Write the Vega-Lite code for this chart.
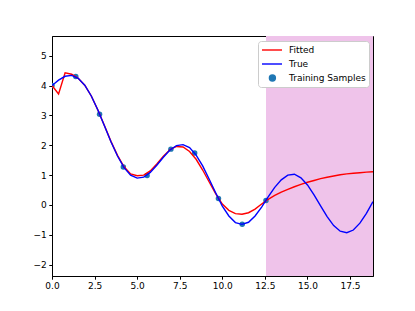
{
  "$schema": "https://vega.github.io/schema/vega-lite/v6.json",
  "autosize": "none",
  "width": 321,
  "height": 240,
  "padding": {"left": 52, "top": 36, "right": 42, "bottom": 35},
  "background": "white",
  "config": {
    "view": {"stroke": "black", "strokeWidth": 1},
    "axis": {"domainColor": "black", "tickColor": "black", "labelColor": "black", "labelFont": "DejaVu Sans", "labelFontSize": 9, "tickSize": 3.2, "grid": false, "title": null, "labelPadding": 2.5, "labelOverlap": false, "labelFlush": false},
    "legend": {
      "orient": "none", "legendX": 206, "legendY": 5, "title": null,
      "fillColor": "white", "strokeColor": "#cccccc", "cornerRadius": 3, "padding": 3,
      "labelFont": "DejaVu Sans", "labelFontSize": 9, "labelColor": "black", "labelOffset": 16,
      "symbolSize": 100, "symbolStrokeWidth": 1.4, "symbolOpacity": 1, "rowPadding": 3
    }
  },
  "datasets": {
    "span": [{"x1": 12.566, "x2": 18.85}],
    "legendEntries": [{"label": "Fitted"}, {"label": "True"}, {"label": "Training Samples"}],
    "samples": [
      {"x": 0, "y": 4.0}, {"x": 1.396, "y": 4.3}, {"x": 2.793, "y": 3.04}, {"x": 4.189, "y": 1.27}, {"x": 5.585, "y": 0.99},
      {"x": 6.981, "y": 1.87}, {"x": 8.378, "y": 1.74}, {"x": 9.774, "y": 0.22}, {"x": 11.17, "y": -0.65}, {"x": 12.566, "y": 0.15}
    ],
    "curves": [
      {"x": 0, "t": 4.00, "f": 4.00},
      {"x": 0.385, "t": 4.18, "f": 3.72},
      {"x": 0.769, "t": 4.31, "f": 4.43},
      {"x": 1.154, "t": 4.34, "f": 4.38},
      {"x": 1.539, "t": 4.24, "f": 4.24},
      {"x": 1.923, "t": 4.01, "f": 4.01},
      {"x": 2.308, "t": 3.65, "f": 3.65},
      {"x": 2.693, "t": 3.18, "f": 3.18},
      {"x": 3.077, "t": 2.65, "f": 2.66},
      {"x": 3.462, "t": 2.12, "f": 2.13},
      {"x": 3.847, "t": 1.64, "f": 1.66},
      {"x": 4.231, "t": 1.25, "f": 1.28},
      {"x": 4.616, "t": 1.00, "f": 1.04},
      {"x": 5.001, "t": 0.90, "f": 0.98},
      {"x": 5.385, "t": 0.93, "f": 1.00},
      {"x": 5.770, "t": 1.09, "f": 1.14},
      {"x": 6.155, "t": 1.33, "f": 1.37},
      {"x": 6.540, "t": 1.60, "f": 1.63},
      {"x": 6.924, "t": 1.84, "f": 1.85},
      {"x": 7.309, "t": 1.99, "f": 1.96},
      {"x": 7.694, "t": 2.02, "f": 1.94},
      {"x": 8.078, "t": 1.92, "f": 1.79},
      {"x": 8.463, "t": 1.67, "f": 1.53},
      {"x": 8.848, "t": 1.31, "f": 1.17},
      {"x": 9.232, "t": 0.86, "f": 0.77},
      {"x": 9.617, "t": 0.40, "f": 0.37},
      {"x": 10.002, "t": -0.04, "f": 0.03},
      {"x": 10.386, "t": -0.37, "f": -0.18},
      {"x": 10.771, "t": -0.59, "f": -0.29},
      {"x": 11.156, "t": -0.65, "f": -0.31},
      {"x": 11.540, "t": -0.58, "f": -0.26},
      {"x": 11.925, "t": -0.37, "f": -0.14},
      {"x": 12.310, "t": -0.07, "f": 0.03},
      {"x": 12.694, "t": 0.27, "f": 0.19},
      {"x": 13.079, "t": 0.59, "f": 0.32},
      {"x": 13.464, "t": 0.84, "f": 0.43},
      {"x": 13.848, "t": 1.00, "f": 0.52},
      {"x": 14.233, "t": 1.03, "f": 0.61},
      {"x": 14.618, "t": 0.91, "f": 0.69},
      {"x": 15.002, "t": 0.67, "f": 0.76},
      {"x": 15.387, "t": 0.34, "f": 0.82},
      {"x": 15.772, "t": -0.03, "f": 0.88},
      {"x": 16.156, "t": -0.39, "f": 0.93},
      {"x": 16.541, "t": -0.69, "f": 0.97},
      {"x": 16.926, "t": -0.88, "f": 1.01},
      {"x": 17.310, "t": -0.93, "f": 1.04},
      {"x": 17.695, "t": -0.84, "f": 1.06},
      {"x": 18.080, "t": -0.61, "f": 1.08},
      {"x": 18.464, "t": -0.28, "f": 1.10},
      {"x": 18.850, "t": 0.11, "f": 1.11}
    ]
  },
  "layer": [
    {
      "data": {"name": "span"},
      "mark": {"type": "rect", "color": "#efc3ea", "clip": true},
      "encoding": {
        "x": {"field": "x1", "type": "quantitative", "scale": {"domain": [0, 18.85], "nice": false, "zero": false},
              "axis": {"values": [0, 2.5, 5, 7.5, 10, 12.5, 15, 17.5], "format": ".1f"}},
        "x2": {"field": "x2"}
      }
    },
    {
      "data": {"name": "samples"},
      "mark": {"type": "circle", "size": 30, "opacity": 1, "color": "#1f77b4", "clip": true},
      "encoding": {
        "x": {"field": "x", "type": "quantitative", "scale": {"domain": [0, 18.85], "nice": false, "zero": false},
              "axis": {"values": [0, 2.5, 5, 7.5, 10, 12.5, 15, 17.5], "format": ".1f"}},
        "y": {"field": "y", "type": "quantitative", "scale": {"domain": [-2.38, 5.66], "nice": false, "zero": false},
              "axis": {"values": [-2, -1, 0, 1, 2, 3, 4, 5], "format": "d"}}
      }
    },
    {
      "data": {"name": "curves"},
      "mark": {"type": "line", "strokeWidth": 1.4, "color": "#ff0000", "clip": true},
      "encoding": {
        "x": {"field": "x", "type": "quantitative", "scale": {"domain": [0, 18.85], "nice": false, "zero": false},
              "axis": {"values": [0, 2.5, 5, 7.5, 10, 12.5, 15, 17.5], "format": ".1f"}},
        "y": {"field": "f", "type": "quantitative", "scale": {"domain": [-2.38, 5.66], "nice": false, "zero": false},
              "axis": {"values": [-2, -1, 0, 1, 2, 3, 4, 5], "format": "d"}}
      }
    },
    {
      "data": {"name": "curves"},
      "mark": {"type": "line", "strokeWidth": 1.4, "color": "#0000ff", "clip": true},
      "encoding": {
        "x": {"field": "x", "type": "quantitative", "scale": {"domain": [0, 18.85], "nice": false, "zero": false},
              "axis": {"values": [0, 2.5, 5, 7.5, 10, 12.5, 15, 17.5], "format": ".1f"}},
        "y": {"field": "t", "type": "quantitative", "scale": {"domain": [-2.38, 5.66], "nice": false, "zero": false},
              "axis": {"values": [-2, -1, 0, 1, 2, 3, 4, 5], "format": "d"}}
      }
    },
    {
      "data": {"name": "legendEntries"},
      "mark": {"type": "point", "opacity": 0, "strokeWidth": 1.4},
      "encoding": {
        "fill": {"field": "label", "type": "nominal",
          "scale": {"domain": ["Fitted", "True", "Training Samples"], "range": ["transparent", "transparent", "#1f77b4"]}},
        "stroke": {"field": "label", "type": "nominal",
          "scale": {"domain": ["Fitted", "True", "Training Samples"], "range": ["#ff0000", "#0000ff", "#1f77b4"]}},
        "shape": {"field": "label", "type": "nominal",
          "scale": {"domain": ["Fitted", "True", "Training Samples"], "range": ["M-1,0H3", "M-1,0H3", "M0.48,0A0.6,0.6 0 1,0 1.68,0A0.6,0.6 0 1,0 0.48,0Z"]}}
      }
    }
  ]
}
